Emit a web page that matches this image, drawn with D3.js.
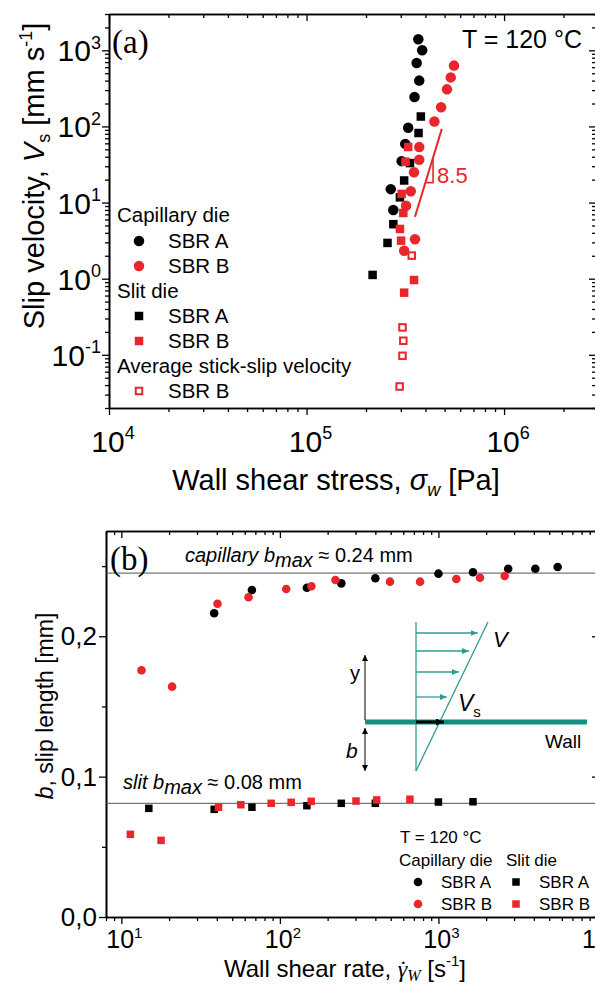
<!DOCTYPE html>
<html>
<head>
<meta charset="utf-8">
<script src="https://cdn.jsdelivr.net/npm/d3@7"></script>
<style>
  html, body { margin: 0; padding: 0; background: #fff; overflow: hidden; }
  svg { display: block; font-family: "Liberation Sans", Arial, sans-serif; }
</style>
</head>
<body>
<svg id="chart" width="595" height="984"></svg>
<script>
// ---------- Panel (a): slip velocity vs wall shear stress ----------
const stressDomain = [1e4, 2.92e6];          // Pa
const velocityDomain = [0.02, 3000];         // mm/s
const stressTicks = [1e4, 1e5, 1e6];
const stressTickExp = ["4", "5", "6"];
const velocityTicks = [0.1, 1, 10, 100, 1000];
const velocityTickExp = ["-1", "0", "1", "2", "3"];

// capillary die, SBR A
const capA_stress = [3.68e5, 3.85e5, 3.61e5, 3.72e5, 3.52e5, 3.27e5, 3.16e5, 3.03e5, 2.67e5, 2.75e5];
const capA_vs     = [1400, 1000, 680, 400, 243, 96, 59, 35, 15, 8.0];
// capillary die, SBR B
const capB_stress = [5.58e5, 5.37e5, 5.14e5, 4.80e5, 4.44e5, 3.72e5, 3.72e5, 3.50e5, 3.37e5, 3.19e5, 3.54e5, 3.12e5];
const capB_vs     = [630, 441, 307, 179, 116, 53.5, 36.5, 25, 14.1, 9.1, 3.3, 2.33];
// slit die, SBR A
const slitA_stress = [3.79e5, 3.69e5, 3.34e5, 3.12e5, 2.97e5, 2.75e5, 2.57e5, 2.16e5];
const slitA_vs     = [135, 82, 33, 19.5, 11.7, 5.2, 2.95, 1.12];
// slit die, SBR B
const slitB_stress = [3.27e5, 3.17e5, 3.03e5, 3.09e5, 2.97e5, 3.01e5, 3.50e5, 3.12e5];
const slitB_vs     = [53.7, 34.4, 13.0, 7.3, 4.5, 3.16, 0.96, 0.655];
// average stick-slip velocity, SBR B
const stick_stress = [3.41e5, 3.06e5, 3.09e5, 3.06e5, 2.96e5];
const stick_vs     = [2.01, 0.229, 0.153, 0.097, 0.0383];

// power-law guide: V ~ sigma^8.5
const slopeValue = 8.5;
const slopeStart = [3.54e5, 6.5];
const slopeEndStress = 4.84e5;
const slopeTriCorner = [4.37e5, 18.3];

// ---------- Panel (b): slip length vs wall shear rate ----------
const rateDomain = [8, 10300];                // 1/s
const slipDomain = [0, 0.275];               // mm
const rateTicks = [10, 100, 1000, 10000];
const rateTickExp = ["1", "2", "3", "4"];
const slipTicks = [0, 0.1, 0.2];
const slipTickLabels = ["0,0", "0,1", "0,2"];
const slipMinorTicks = [0.05, 0.15, 0.25];
const capBmax = 0.245;
const slitBmax = 0.081;

const bCapA_rate = [38.5, 66.6, 148, 244, 400, 1000, 1652, 2755, 4085, 5650];
const bCapA_b    = [0.2164, 0.233, 0.2346, 0.2377, 0.2413, 0.2446, 0.2456, 0.2481, 0.2481, 0.2494];
const bCapB_rate = [13.4, 20.9, 40.4, 63.4, 109.6, 158, 224, 495, 766, 1297, 1829, 2617];
const bCapB_b    = [0.1758, 0.1641, 0.2232, 0.2278, 0.2337, 0.2356, 0.2401, 0.2389, 0.2389, 0.2408, 0.2417, 0.2429];
const bSlitA_rate = [14.9, 38.5, 66.6, 148, 244, 400, 1000, 1652];
const bSlitA_b    = [0.0774, 0.0767, 0.0782, 0.0793, 0.081, 0.081, 0.0819, 0.0821];
const bSlitB_rate = [11.4, 17.8, 41, 56.7, 88.1, 117.8, 157.5, 302, 408, 661];
const bSlitB_b    = [0.0589, 0.0546, 0.0782, 0.080, 0.081, 0.0817, 0.0824, 0.0826, 0.0834, 0.0839];

const RED = "#e8262b", BLACK = "#000000", TEAL = "#2a9f90", TEAL_DARK = "#119080";
const SERIF = "'Liberation Serif', 'Times New Roman', serif";
const zip = (xs, ys) => xs.map((x, i) => [x, ys[i]]);

const svg = d3.select("#chart");
const defs = svg.append("defs");
function arrowMarker(id, color, w, h) {
  defs.append("marker").attr("id", id).attr("viewBox", `0 0 ${w} ${h}`)
    .attr("refX", w).attr("refY", h / 2).attr("markerWidth", w).attr("markerHeight", h)
    .attr("markerUnits", "userSpaceOnUse").attr("orient", "auto-start-reverse")
    .append("path").attr("d", `M0,0 L${w},${h / 2} L0,${h} Z`).attr("fill", color);
}
arrowMarker("arrTeal", TEAL, 7, 6);
arrowMarker("arrBlack", BLACK, 8, 7);
arrowMarker("arrThin", BLACK, 6, 6);

function logMinor(domain) {
  const out = [];
  const [a, b] = domain;
  for (let e = Math.floor(Math.log10(a)); e <= Math.ceil(Math.log10(b)); e++) {
    for (let k = 2; k <= 9; k++) {
      const v = k * Math.pow(10, e);
      if (v >= a && v <= b) out.push(v);
    }
  }
  return out;
}

function drawAxis(gen, transform) {
  svg.append("g").attr("transform", transform).call(gen)
    .call(s => {
      s.selectAll("path.domain").attr("stroke-width", 1.6).attr("stroke", BLACK);
      s.selectAll(".tick line").attr("stroke-width", 1.3).attr("stroke", BLACK);
      s.selectAll(".tick text").remove();
    });
}

function powLabel(x, y, exp, size, anchor) {
  const t = svg.append("text").attr("x", x).attr("y", y)
    .attr("font-size", size).attr("text-anchor", anchor);
  t.append("tspan").text("10");
  t.append("tspan").attr("font-size", size * 0.6).attr("dy", -size * 0.42).text(exp);
  return t;
}

function drawPoints(g, pts, x, y, shape, color, size, open) {
  if (shape === "circle") {
    g.selectAll(null).data(pts).join("circle")
      .attr("cx", d => x(d[0])).attr("cy", d => y(d[1])).attr("r", size / 2).attr("fill", color);
  } else {
    const s = open ? size - 2 : size;
    g.selectAll(null).data(pts).join("rect")
      .attr("x", d => x(d[0]) - s / 2).attr("y", d => y(d[1]) - s / 2)
      .attr("width", s).attr("height", s)
      .attr("fill", open ? "#fff" : color)
      .attr("stroke", open ? color : "none").attr("stroke-width", open ? 2 : 0);
  }
}

function legendMark(cx, cy, shape, color, size, open) {
  const g = svg.append("g");
  drawPoints(g, [[0, 0]], () => cx, () => cy, shape, color, size, open);
}

// ================= Panel (a) =================
const xA = d3.scaleLog().domain(stressDomain).range([109, 596]);
const yA = d3.scaleLog().domain(velocityDomain).range([408, 14]);
const [aL, aR] = xA.range(), [aB, aT] = yA.range();

drawAxis(d3.axisBottom(xA).tickValues(stressTicks).tickSize(7).tickSizeOuter(0), `translate(0,${aB})`);
drawAxis(d3.axisBottom(xA).tickValues(logMinor(stressDomain)).tickSize(4).tickSizeOuter(0), `translate(0,${aB})`);
drawAxis(d3.axisTop(xA).tickValues(stressTicks).tickSize(-7).tickSizeOuter(0), `translate(0,${aT})`);
drawAxis(d3.axisTop(xA).tickValues(logMinor(stressDomain)).tickSize(-4).tickSizeOuter(0), `translate(0,${aT})`);
drawAxis(d3.axisLeft(yA).tickValues(velocityTicks).tickSize(7).tickSizeOuter(0), `translate(${aL},0)`);
drawAxis(d3.axisLeft(yA).tickValues(logMinor(velocityDomain)).tickSize(4).tickSizeOuter(0), `translate(${aL},0)`);
drawAxis(d3.axisRight(yA).tickValues(velocityTicks).tickSize(-7).tickSizeOuter(0), `translate(${aR},0)`);
drawAxis(d3.axisRight(yA).tickValues(logMinor(velocityDomain)).tickSize(-4).tickSizeOuter(0), `translate(${aR},0)`);

stressTicks.forEach((v, i) => powLabel(xA(v) + 4, aB + 44, stressTickExp[i], 30, "middle"));
velocityTicks.forEach((v, i) => powLabel(aL - 8, yA(v) + 11, velocityTickExp[i], 30, "end"));

// axis titles (a)
{
  const t = svg.append("text").attr("x", 336).attr("y", 490).attr("font-size", 29).attr("text-anchor", "middle");
  t.append("tspan").text("Wall shear stress, ");
  t.append("tspan").attr("font-style", "italic").text("σ");
  t.append("tspan").attr("font-style", "italic").attr("font-size", 18).attr("dy", 6).text("w");
  t.append("tspan").attr("dy", -6).text(" [Pa]");

  const ty = svg.append("text").attr("transform", "translate(44,176) rotate(-90)")
    .attr("font-size", 29).attr("text-anchor", "middle");
  ty.append("tspan").text("Slip velocity, ");
  ty.append("tspan").attr("font-style", "italic").text("V");
  ty.append("tspan").attr("font-size", 18).attr("dy", 6).text("s");
  ty.append("tspan").attr("dy", -6).text(" [mm s");
  ty.append("tspan").attr("font-size", 18).attr("dy", -12).text("-1");
  ty.append("tspan").attr("dy", 12).text("]");
}

const gA = svg.append("g");
drawPoints(gA, zip(capA_stress, capA_vs), xA, yA, "circle", BLACK, 10.5);
drawPoints(gA, zip(slitA_stress, slitA_vs), xA, yA, "square", BLACK, 8.5);
drawPoints(gA, zip(capB_stress, capB_vs), xA, yA, "circle", RED, 10.5);
drawPoints(gA, zip(slitB_stress, slitB_vs), xA, yA, "square", RED, 8.5);
drawPoints(gA, zip(stick_stress, stick_vs), xA, yA, "square", RED, 8.5, true);

// slope guide with triangle
{
  const slopeEnd = [slopeEndStress, slopeStart[1] * Math.pow(slopeEndStress / slopeStart[0], slopeValue)];
  gA.append("line")
    .attr("x1", xA(slopeStart[0])).attr("y1", yA(slopeStart[1]))
    .attr("x2", xA(slopeEnd[0])).attr("y2", yA(slopeEnd[1]))
    .attr("stroke", RED).attr("stroke-width", 2);
  const [cx, cy] = slopeTriCorner;
  const xOnLine = slopeStart[0] * Math.pow(cy / slopeStart[1], 1 / slopeValue);
  const yOnLine = slopeStart[1] * Math.pow(cx / slopeStart[0], slopeValue);
  gA.append("path")
    .attr("d", `M${xA(xOnLine)},${yA(cy)} L${xA(cx)},${yA(cy)} L${xA(cx)},${yA(yOnLine)}`)
    .attr("fill", "none").attr("stroke", RED).attr("stroke-width", 1.6);
  svg.append("text").attr("x", xA(cx) + 4).attr("y", yA(cy)).attr("font-size", 22)
    .attr("fill", RED).text(slopeValue.toFixed(1));
}

svg.append("text").attr("x", 112).attr("y", 53).attr("font-size", 33)
  .attr("font-family", SERIF).text("(a)");
svg.append("text").attr("x", 462).attr("y", 48).attr("font-size", 25).text("T = 120 °C");

// legend (a)
{
  const fs = 20.5, x0 = 117, xm = 139, xt = 168;
  const rows = [
    { y: 222, head: "Capillary die" },
    { y: 248, mark: ["circle", BLACK], label: "SBR A" },
    { y: 273, mark: ["circle", RED], label: "SBR B" },
    { y: 298, head: "Slit die" },
    { y: 323, mark: ["square", BLACK], label: "SBR A" },
    { y: 348, mark: ["square", RED], label: "SBR B" },
    { y: 373, head: "Average stick-slip velocity" },
    { y: 398, mark: ["square", RED, true], label: "SBR B" }
  ];
  rows.forEach(r => {
    if (r.head) {
      svg.append("text").attr("x", x0).attr("y", r.y).attr("font-size", fs).text(r.head);
    } else {
      legendMark(xm, r.y - 7, r.mark[0], r.mark[1], r.mark[0] === "circle" ? 10.5 : 8.5, r.mark[2]);
      svg.append("text").attr("x", xt).attr("y", r.y).attr("font-size", fs).text(r.label);
    }
  });
}

// ================= Panel (b) =================
const xB = d3.scaleLog().domain(rateDomain).range([106, 599]);
const yB = d3.scaleLinear().domain(slipDomain).range([917, 531]);
const [bL, bR] = xB.range(), [bB, bT] = yB.range();

drawAxis(d3.axisBottom(xB).tickValues(rateTicks).tickSize(7).tickSizeOuter(0), `translate(0,${bB})`);
drawAxis(d3.axisBottom(xB).tickValues(logMinor(rateDomain)).tickSize(4).tickSizeOuter(0), `translate(0,${bB})`);
drawAxis(d3.axisTop(xB).tickValues(rateTicks).tickSize(-7).tickSizeOuter(0), `translate(0,${bT})`);
drawAxis(d3.axisTop(xB).tickValues(logMinor(rateDomain)).tickSize(-4).tickSizeOuter(0), `translate(0,${bT})`);
drawAxis(d3.axisLeft(yB).tickValues(slipTicks).tickSize(7).tickSizeOuter(0), `translate(${bL},0)`);
drawAxis(d3.axisLeft(yB).tickValues(slipMinorTicks).tickSize(4).tickSizeOuter(0), `translate(${bL},0)`);
drawAxis(d3.axisRight(yB).tickValues(slipTicks).tickSize(-7).tickSizeOuter(0), `translate(${bR},0)`);
drawAxis(d3.axisRight(yB).tickValues(slipMinorTicks).tickSize(-4).tickSizeOuter(0), `translate(${bR},0)`);

rateTicks.forEach((v, i) => powLabel(xB(v) + 3, bB + 31, rateTickExp[i], 25, "middle"));
slipTicks.forEach((v, i) => {
  svg.append("text").attr("x", bL - 9).attr("y", yB(v) + 9).attr("font-size", 26)
    .attr("text-anchor", "end").text(slipTickLabels[i]);
});

// axis titles (b)
{
  const t = svg.append("text").attr("x", 345).attr("y", 977).attr("font-size", 24).attr("text-anchor", "middle");
  t.append("tspan").text("Wall shear rate, ");
  t.append("tspan").attr("font-family", SERIF).attr("font-style", "italic").text("γ");
  t.append("tspan").attr("font-family", SERIF).attr("dx", -8).text("˙");
  t.append("tspan").attr("font-family", SERIF).attr("font-style", "italic")
    .attr("font-size", 16).attr("dy", 4).text("W");
  t.append("tspan").attr("dy", -4).text(" [s");
  t.append("tspan").attr("font-size", 15).attr("dy", -11).text("-1");
  t.append("tspan").attr("dy", 11).text("]");

  const ty = svg.append("text").attr("transform", "translate(53,706) rotate(-90)")
    .attr("font-size", 23).attr("text-anchor", "middle");
  ty.append("tspan").attr("font-style", "italic").text("b");
  ty.append("tspan").text(", slip length [mm]");
}

// reference levels
[capBmax, slitBmax].forEach(v => {
  svg.append("line").attr("x1", bL).attr("x2", bR).attr("y1", yB(v)).attr("y2", yB(v))
    .attr("stroke", "#555").attr("stroke-width", 1);
});
function bmaxLabel(x, y, word, val) {
  const t = svg.append("text").attr("x", x).attr("y", y).attr("font-size", 20);
  t.append("tspan").attr("font-style", "italic").text(word + " b");
  t.append("tspan").attr("font-style", "italic").attr("dy", 5).text("max");
  t.append("tspan").attr("dy", -5).text(" ≈ " + val + " mm");
}
bmaxLabel(185, 562, "capillary", "0.24");
bmaxLabel(123, 789, "slit", "0.08");

svg.append("text").attr("x", 110).attr("y", 570).attr("font-size", 33)
  .attr("font-family", SERIF).text("(b)");

// slip schematic: velocity profile above the wall, extrapolated to depth b
{
  const g = svg.append("g").attr("transform", "translate(365,722)");
  const px = 51, top = -100, bot = 49, dx = 72;
  const diagX = y => px + (bot - y) * dx / (bot - top);
  g.append("line").attr("x1", px).attr("y1", top).attr("x2", px).attr("y2", bot)
    .attr("stroke", TEAL).attr("stroke-width", 1.3);
  g.append("line").attr("x1", px).attr("y1", bot).attr("x2", px + dx).attr("y2", top)
    .attr("stroke", TEAL).attr("stroke-width", 1.3);
  [-89, -71, -50, -25].forEach(y => {
    g.append("line").attr("x1", px).attr("y1", y).attr("x2", diagX(y) - 5).attr("y2", y)
      .attr("stroke", TEAL).attr("stroke-width", 1.3).attr("marker-end", "url(#arrTeal)");
  });
  g.append("line").attr("x1", 0).attr("y1", 0).attr("x2", 222).attr("y2", 0)
    .attr("stroke", TEAL_DARK).attr("stroke-width", 5);
  g.append("line").attr("x1", px).attr("y1", 0).attr("x2", px + 28).attr("y2", 0)
    .attr("stroke", BLACK).attr("stroke-width", 3).attr("marker-end", "url(#arrBlack)");
  g.append("line").attr("x1", 0).attr("y1", -2).attr("x2", 0).attr("y2", -67)
    .attr("stroke", BLACK).attr("stroke-width", 1).attr("marker-end", "url(#arrThin)");
  g.append("line").attr("x1", 0).attr("y1", 6).attr("x2", 0).attr("y2", bot)
    .attr("stroke", BLACK).attr("stroke-width", 1)
    .attr("marker-start", "url(#arrThin)").attr("marker-end", "url(#arrThin)");
  g.append("text").attr("x", -15).attr("y", -42).attr("font-size", 20).text("y");
  g.append("text").attr("x", -19).attr("y", 36).attr("font-size", 21).attr("font-style", "italic").text("b");
  g.append("text").attr("x", 128).attr("y", -75).attr("font-size", 22).attr("font-style", "italic").text("V");
  const vs = g.append("text").attr("x", 93).attr("y", -11).attr("font-size", 23);
  vs.append("tspan").attr("font-style", "italic").text("V");
  vs.append("tspan").attr("font-size", 15).attr("dy", 6).text("s");
  g.append("text").attr("x", 180).attr("y", 26).attr("font-size", 19).text("Wall");
}

const gB = svg.append("g");
drawPoints(gB, zip(bCapA_rate, bCapA_b), xB, yB, "circle", BLACK, 8.6);
drawPoints(gB, zip(bCapB_rate, bCapB_b), xB, yB, "circle", RED, 8.6);
drawPoints(gB, zip(bSlitA_rate, bSlitA_b), xB, yB, "square", BLACK, 7.5);
drawPoints(gB, zip(bSlitB_rate, bSlitB_b), xB, yB, "square", RED, 7.5);

// legend (b)
{
  const fs = 17;
  svg.append("text").attr("x", 400).attr("y", 843).attr("font-size", fs).text("T = 120 °C");
  svg.append("text").attr("x", 399).attr("y", 866).attr("font-size", fs).text("Capillary die");
  svg.append("text").attr("x", 506).attr("y", 866).attr("font-size", fs).text("Slit die");
  const rows = [[888, BLACK, "SBR A"], [910, RED, "SBR B"]];
  rows.forEach(([y, c, lab]) => {
    legendMark(418, y - 6, "circle", c, 8.6);
    svg.append("text").attr("x", 441).attr("y", y).attr("font-size", fs).text(lab);
    legendMark(516, y - 6, "square", c, 7.5);
    svg.append("text").attr("x", 539).attr("y", y).attr("font-size", fs).text(lab);
  });
}
</script>
</body>
</html>
